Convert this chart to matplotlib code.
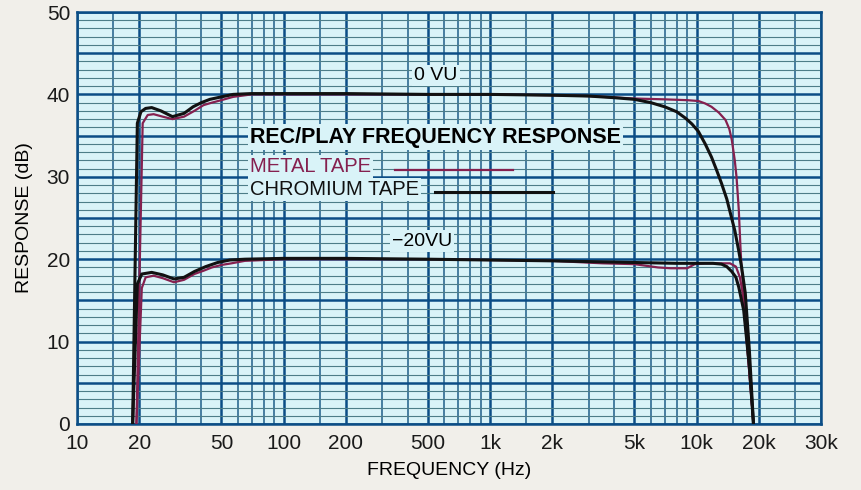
import matplotlib
matplotlib.use("Agg")
import matplotlib.pyplot as plt
from matplotlib.lines import Line2D
from matplotlib.ticker import NullFormatter

# --- data (Hz, dB) ---
chrome_0vu_f = [18.6, 19.6, 20.4, 21.5, 23.0, 25.5, 29.0, 33.0, 36.5, 40.0, 44.0, 50.0, 57.0,
                70, 100, 200, 500, 1000, 2000, 3000, 4000, 5000, 6000, 7000, 8000, 8850,
                9500, 10200, 11000, 11800, 12500, 13200, 14000, 14600, 15300, 16000,
                16500, 17200, 18000, 18850]
chrome_0vu_db = [0, 36.5, 37.9, 38.3, 38.4, 38.0, 37.3, 37.7, 38.5, 39.0, 39.4, 39.7, 40.0,
                 40.1, 40.1, 40.1, 40.0, 40.0, 39.9, 39.8, 39.6, 39.4, 39.0, 38.5, 37.9, 37.1,
                 36.4, 35.5, 34.0, 32.4, 30.8, 29.2, 27.3, 25.5, 23.5, 21.0,
                 19.1, 15.9, 9.0, 0]

metal_0vu_f = [19.4, 20.8, 22.0, 23.5, 26.0, 29.0, 33.0, 37.0, 41.0, 45.0, 50.0, 57.0, 70,
               100, 200, 500, 1000, 2000, 3000, 5000, 7000, 9000, 10200, 11000, 11800,
               12800, 13800, 14400, 14800, 15300, 15600, 16000, 16300, 16500, 16900,
               17500, 18300, 18850]
metal_0vu_db = [0, 36.5, 37.5, 37.6, 37.3, 37.0, 37.3, 38.0, 38.7, 39.0, 39.3, 39.7, 40.0,
                40.0, 40.0, 40.0, 40.0, 39.9, 39.8, 39.5, 39.4, 39.3, 39.2, 38.9, 38.5,
                37.8, 36.9, 35.8, 34.5, 32.0, 30.0, 26.0, 21.5, 19.0, 15.9,
                10.0, 4.0, 0]

chrome_20vu_f = [18.6, 19.6, 20.6, 23.0, 26.0, 29.5, 33.0, 37.0, 42.0, 48.0, 55.0, 65.0,
                 100, 200, 500, 1000, 2000, 5000, 8000, 10000, 12000, 13200, 14000, 14800,
                 15500, 16000, 16900, 18000, 18850]
chrome_20vu_db = [0, 17.0, 18.2, 18.4, 18.1, 17.6, 17.8, 18.5, 19.1, 19.6, 19.9, 20.0,
                  20.1, 20.1, 20.0, 19.9, 19.8, 19.6, 19.5, 19.5, 19.5, 19.4, 19.1, 18.5,
                  17.8, 16.6, 13.8, 7.0, 0]

metal_20vu_f = [19.4, 20.6, 21.5, 23.5, 26.0, 29.5, 33.0, 37.0, 41.0, 45.0, 50.0, 56.0, 65.0,
                100, 200, 500, 1000, 2000, 3500, 5000, 6500, 7500, 9000, 9800, 11000,
                13000, 14500, 15500, 16200, 16700, 17500, 18300, 18850]
metal_20vu_db = [0, 16.5, 17.8, 18.0, 17.7, 17.2, 17.5, 18.2, 18.6, 19.0, 19.3, 19.5, 19.8,
                 20.0, 20.0, 20.0, 19.9, 19.8, 19.5, 19.4, 19.0, 18.9, 18.9, 19.4, 19.5,
                 19.5, 19.5, 19.1, 17.8, 15.9, 10.0, 4.0, 0]

x_ticks = [10, 20, 50, 100, 200, 500, 1000, 2000, 5000, 10000, 20000, 40000]
x_labels = ["10", "20", "50", "100", "200", "500", "1k", "2k", "5k", "10k", "20k", "30k"]
y_ticks = [0, 5, 10, 15, 20, 25, 30, 35, 40, 45, 50]
y_labels = ["0", "", "10", "", "20", "", "30", "", "40", "", "50"]

# colours
BG = "#d9f3f8"
PAPER = "#f1efea"
MAJOR = "#0b4d86"
MINOR_V = "#1f5d88"
MINOR_H = "#4d7d88"
METAL = "#85204f"
CHROME = "#111111"

plt.rcParams["font.family"] = ["Liberation Sans", "DejaVu Sans"]

fig = plt.figure(figsize=(8.62, 4.90), dpi=100, facecolor=PAPER)
ax = fig.add_axes([0.0893, 0.1347, 0.8631, 0.8408])
ax.set_facecolor(BG)
ax.set_xscale("log")
ax.set_xlim(10, 40000)
ax.set_ylim(0, 50)

# graph-paper grid
minor_x = [d * s for d in (10, 100, 1000, 10000) for s in (1.5, 3, 4, 6, 7, 8, 9)
           if d * s < 40000]
ax.set_xticks(x_ticks, x_labels)
ax.set_xticks(minor_x, minor=True)
ax.xaxis.set_minor_formatter(NullFormatter())
ax.set_yticks(y_ticks, y_labels)
ax.set_yticks(range(0, 51), minor=True)
ax.yaxis.set_minor_formatter(NullFormatter())
ax.xaxis.grid(True, which="major", color=MAJOR, lw=1.8)
ax.xaxis.grid(True, which="minor", color=MINOR_V, lw=1.1)
ax.yaxis.grid(True, which="major", color=MAJOR, lw=1.8)
ax.yaxis.grid(True, which="minor", color=MINOR_H, lw=0.8)
ax.set_axisbelow(True)
ax.tick_params(which="both", length=0, labelsize=15, colors="#1a1a1a")
ax.tick_params(axis="x", pad=7)
ax.tick_params(axis="y", pad=5)
for s in ax.spines.values():
    s.set_color(MAJOR)
    s.set_linewidth(1.8)

# curves
ax.plot(metal_0vu_f, metal_0vu_db, color=METAL, lw=1.6, zorder=3)
ax.plot(metal_20vu_f, metal_20vu_db, color=METAL, lw=1.6, zorder=3)
ax.plot(chrome_0vu_f, chrome_0vu_db, color=CHROME, lw=2.2, zorder=4)
ax.plot(chrome_20vu_f, chrome_20vu_db, color=CHROME, lw=2.2, zorder=4)

box = dict(facecolor=BG, edgecolor="none", pad=1.5)
ax.text(548, 42.3, "0 VU", fontsize=14, ha="center", va="center", bbox=box, zorder=5)
ax.text(469, 22.2, "\u221220VU", fontsize=14, ha="center", va="center", bbox=box, zorder=5)

# key in the middle of the plot
ax.text(0.2325, 0.6966, "REC/PLAY FREQUENCY RESPONSE", transform=ax.transAxes,
        fontsize=15.5, fontweight="bold", ha="left", va="center", bbox=box, zorder=5)
ax.text(0.2325, 0.6238, "METAL TAPE", transform=ax.transAxes, color=METAL,
        fontsize=14.5, ha="left", va="center", bbox=box, zorder=5)
ax.text(0.2325, 0.568, "CHROMIUM TAPE", transform=ax.transAxes, color=CHROME,
        fontsize=14.5, ha="left", va="center", bbox=box, zorder=5)
ax.add_line(Line2D([0.427, 0.586], [0.6165, 0.6165], transform=ax.transAxes,
                   color=METAL, lw=1.6, zorder=5))
ax.add_line(Line2D([0.481, 0.640], [0.563, 0.563], transform=ax.transAxes,
                   color=CHROME, lw=2.2, zorder=5))

ax.set_xlabel("FREQUENCY (Hz)", fontsize=14, labelpad=7)
ax.set_ylabel("RESPONSE (dB)", fontsize=14, labelpad=10)

plt.savefig("out.png", dpi=100, facecolor=PAPER)
